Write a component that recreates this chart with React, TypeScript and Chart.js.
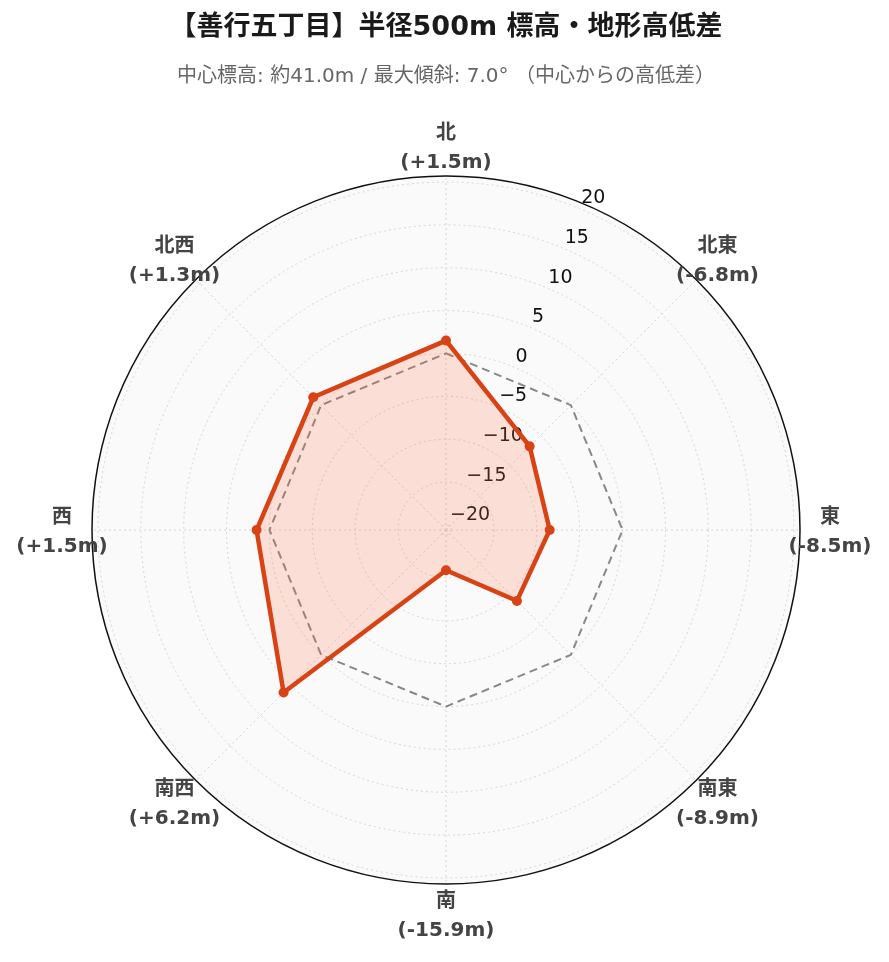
import React, { useEffect, useRef } from 'react';
import { Chart, registerables } from 'chart.js';

Chart.register(...registerables);

const directions = ['北', '北東', '東', '南東', '南', '南西', '西', '北西'];
const elevationDiff = [1.5, -6.8, -8.5, -8.9, -15.9, 6.2, 1.5, 1.3];
const referenceLine = [0, 0, 0, 0, 0, 0, 0, 0];
const radialTicks = [-20, -15, -10, -5, 0, 5, 10, 15, 20];
const radialMin = -20.6;
const radialMax = 20.7;
const titleText = '【善行五丁目】半径500m 標高・地形高低差';
const subtitleText = '中心標高: 約41.0m / 最大傾斜: 7.0° （中心からの高低差）';

const FONT = '"DejaVu Sans", "Noto Sans CJK JP", sans-serif';
const TICK_ANGLE = Math.PI / 8; // radial axis angle, clockwise from north

const fmtDiff = (v: number) => `(${v > 0 ? '+' : ''}${v.toFixed(1)}m)`;
const fmtTick = (v: number) => (v < 0 ? '\u2212' + Math.abs(v) : String(v));

const polarDecor = {
  id: 'polarDecor',
  beforeDatasetsDraw(chart: any) {
    const scale = chart.scales.r;
    const ctx = chart.ctx;
    ctx.save();
    ctx.font = `19px ${FONT}`;
    ctx.fillStyle = '#111';
    ctx.textAlign = 'left';
    ctx.textBaseline = 'middle';
    radialTicks.forEach((v) => {
      const d = scale.getDistanceFromCenterForValue(v);
      const x = scale.xCenter + d * Math.sin(TICK_ANGLE);
      const y = scale.yCenter - d * Math.cos(TICK_ANGLE);
      ctx.fillText(fmtTick(v), x + 2, y - 10);
    });
    ctx.restore();
  },
  afterDraw(chart: any) {
    const scale = chart.scales.r;
    const ctx = chart.ctx;
    ctx.save();
    // outer frame
    ctx.beginPath();
    ctx.arc(scale.xCenter, scale.yCenter, scale.drawingArea, 0, Math.PI * 2);
    ctx.strokeStyle = '#111';
    ctx.lineWidth = 1.5;
    ctx.stroke();
    // direction labels
    ctx.fillStyle = '#444';
    ctx.textAlign = 'center';
    ctx.textBaseline = 'middle';
    ctx.font = `bold 20px ${FONT}`;
    directions.forEach((name, i) => {
      const p = scale.getPointPosition(i, scale.drawingArea + 30);
      ctx.fillText(name, p.x, p.y - 12);
      ctx.fillText(fmtDiff(elevationDiff[i]), p.x, p.y + 17);
    });
    ctx.restore();
  },
};

export default function App() {
  const canvasRef = useRef<HTMLCanvasElement | null>(null);

  useEffect(() => {
    if (!canvasRef.current) return;
    const chart = new Chart(canvasRef.current, {
      type: 'radar',
      data: {
        labels: directions,
        datasets: [
          {
            label: '高低差',
            data: elevationDiff,
            borderColor: '#d84315',
            borderWidth: 4.5,
            backgroundColor: 'rgba(255,112,67,0.2)',
            fill: 'start',
            pointRadius: 5,
            pointBackgroundColor: '#d84315',
            pointBorderWidth: 0,
            tension: 0,
          },
          {
            label: '基準',
            data: referenceLine,
            borderColor: '#888',
            borderWidth: 2,
            borderDash: [8, 5],
            fill: false,
            pointRadius: 0,
          },
        ],
      },
      options: {
        animation: false,
        responsive: true,
        maintainAspectRatio: false,
        layout: { padding: { left: 91, right: 88, top: 0, bottom: 77 } },
        plugins: {
          legend: { display: false },
          tooltip: { enabled: false },
          title: {
            display: true,
            text: titleText,
            color: '#1a1a1a',
            font: { family: FONT, size: 27, weight: 'bold' },
            padding: { top: 11.8, bottom: 20.8 },
          },
          subtitle: {
            display: true,
            text: subtitleText,
            color: '#666',
            font: { family: FONT, size: 20 },
            padding: { top: 0, bottom: 87 },
          },
        },
        scales: {
          r: {
            min: radialMin,
            max: radialMax,
            backgroundColor: '#fafafa',
            grid: { circular: true, color: '#d6d6d6', lineWidth: 1 },
            border: { dash: [2, 3] },
            angleLines: { display: true, color: '#d6d6d6', lineWidth: 1, borderDash: [2, 3] },
            pointLabels: { display: false },
            ticks: { display: false, stepSize: 5 },
            afterBuildTicks: (scale: any) => {
              scale.ticks = radialTicks.map((v) => ({ value: v }));
            },
          },
        },
      },
      plugins: [polarDecor],
    });
    return () => chart.destroy();
  }, []);

  return (
    <div style={{ position: 'fixed', left: 0, top: 0, width: 889, height: 962, background: '#fff' }}>
      <canvas ref={canvasRef} />
    </div>
  );
}
